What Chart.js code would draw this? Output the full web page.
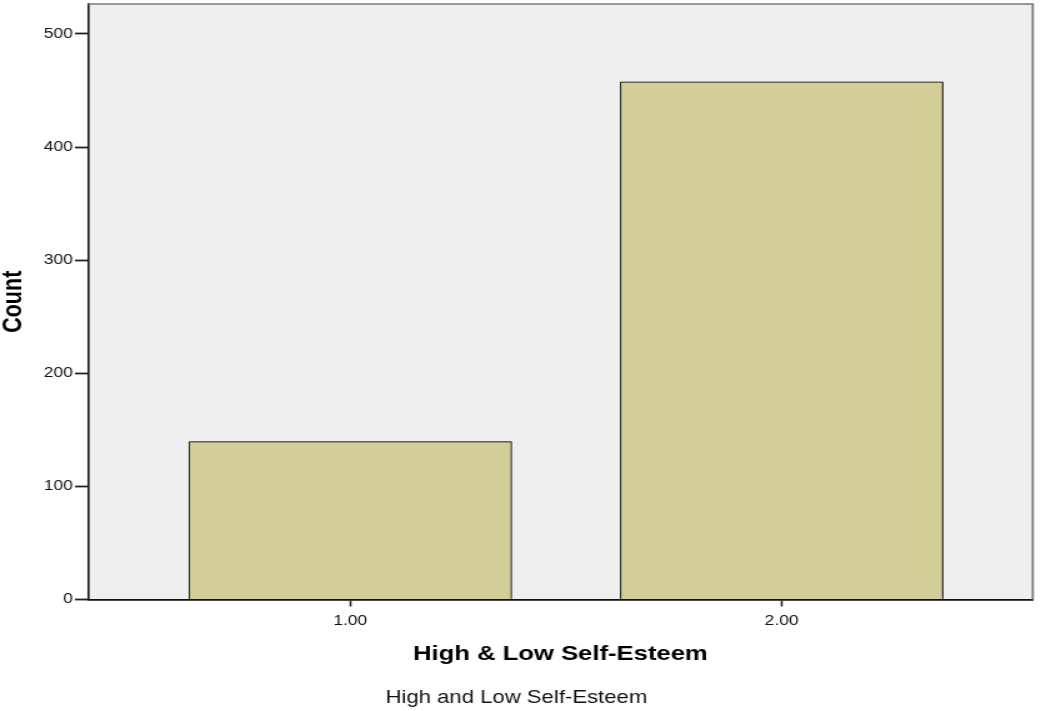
<!DOCTYPE html>
<html>
<head>
<meta charset="utf-8">
<script src="https://cdn.jsdelivr.net/npm/chart.js@4/dist/chart.umd.min.js"></script>
<style>
  html, body { margin: 0; padding: 0; background: #fff; }
  #wrap { width: 1046px; height: 711px; overflow: hidden; }
  /* the original picture is stretched sideways, so the canvas is drawn narrower and widened */
  #myChart { display: block; }
</style>
</head>
<body>
<div id="wrap"><canvas id="myChart" width="837" height="711" style="width:1046px;height:711px"></canvas></div>
<script>
// data
const categories = [1, 2];
const xTickLabels = ['1.00', '2.00'];
const counts = [140, 458];
const yTicks = [0, 100, 200, 300, 400, 500];

const FONT = 'Liberation Sans, Arial, sans-serif';

// plot background, gray top/right frame, soft bar shadow
const frame = {
    id: 'frame',
    beforeDraw(chart) {
        const { ctx, chartArea: a } = chart;
        ctx.save();
        ctx.fillStyle = '#efefef';
        ctx.fillRect(a.left, a.top, a.right - a.left, a.bottom - a.top);
        ctx.restore();
    },
    afterDraw(chart) {
        const { ctx, chartArea: a } = chart;
        ctx.save();
        ctx.strokeStyle = '#7a7a7a';
        ctx.lineWidth = 1.7;
        ctx.beginPath();
        ctx.moveTo(a.left, a.top);
        ctx.lineTo(a.right, a.top);
        ctx.lineTo(a.right, a.bottom);
        ctx.stroke();
        ctx.restore();
    },
    beforeDatasetsDraw(chart) {
        const ctx = chart.ctx;
        ctx.save();
        ctx.shadowColor = 'rgba(0,0,0,0.4)';
        ctx.shadowBlur = 3;
        ctx.shadowOffsetX = 1;
        ctx.shadowOffsetY = -1;
    },
    afterDatasetsDraw(chart) {
        chart.ctx.restore();
    }
};

const ctx = document.getElementById('myChart').getContext('2d');
const myChart = new Chart(ctx, {
    type: 'bar',
    data: {
        datasets: [{
            label: 'Count',
            data: categories.map((c, i) => ({ x: c, y: counts[i] })),
            backgroundColor: '#d3ce98',
            borderColor: '#2a2a2a',
            borderWidth: 1.3,
            categoryPercentage: 1,
            barPercentage: 0.75
        }]
    },
    plugins: [frame],
    options: {
        responsive: false,
        animation: false,
        layout: { padding: { top: 4, right: 10.6, left: 0, bottom: 0 } },
        plugins: {
            legend: { display: false },
            tooltip: { enabled: false },
            title: {
                display: true,
                position: 'bottom',
                text: 'High and Low Self-Esteem',
                color: '#111',
                font: { family: FONT, size: 17.7, weight: 'normal' },
                padding: { top: 0, bottom: 2.4 }
            }
        },
        scales: {
            x: {
                type: 'linear',
                offset: false,
                min: 0.392,
                max: 2.582,
                afterBuildTicks(scale) {
                    scale.ticks = categories.map(v => ({ value: v }));
                },
                afterFit(scale) {
                    scale.height = 87.86;
                    scale.paddingLeft = 0;
                    scale.paddingRight = 0;
                },
                border: { display: true, color: '#111', width: 1.8 },
                grid: { display: true, offset: false, drawOnChartArea: false, tickLength: 7, tickColor: '#222', tickWidth: 1.6 },
                ticks: {
                    padding: 5.8,
                    color: '#111',
                    maxRotation: 0,
                    font: { family: FONT, size: 14 },
                    callback: (v) => xTickLabels[categories.indexOf(v)]
                },
                title: {
                    display: true,
                    text: 'High & Low Self-Esteem',
                    color: '#000',
                    font: { family: FONT, size: 20.5, weight: 'bold' },
                    padding: { top: 0, bottom: 20.5 }
                }
            },
            y: {
                min: 0,
                max: 526.5,
                afterBuildTicks(scale) {
                    scale.ticks = yTicks.map(v => ({ value: v }));
                },
                afterFit(scale) {
                    scale.width = 70.4;
                    scale.paddingTop = 0;
                    scale.paddingBottom = 0;
                },
                border: { display: true, color: '#111', width: 1.6 },
                grid: { display: true, drawOnChartArea: false, tickLength: 10.4, tickColor: '#222', tickWidth: 1.8 },
                ticks: {
                    padding: 1.6,
                    color: '#111',
                    font: { family: FONT, size: 14 }
                },
                title: {
                    display: true,
                    text: 'Count',
                    color: '#000',
                    font: { family: FONT, size: 21.5, weight: 'bold', lineHeight: 1 },
                    padding: { top: 0.5, bottom: 0 }
                }
            }
        }
    }
});
</script>
</body>
</html>
